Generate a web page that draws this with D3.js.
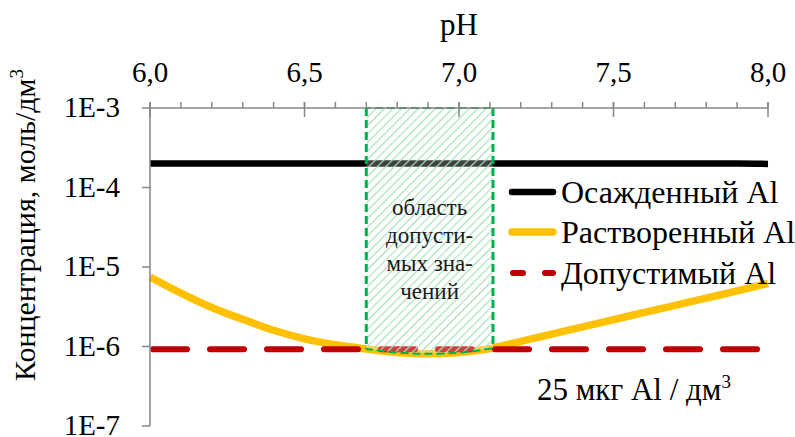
<!DOCTYPE html>
<html><head><meta charset="utf-8">
<script src="https://cdn.jsdelivr.net/npm/d3@7"></script>
<style>
html,body{margin:0;padding:0;background:#fff;}
svg{display:block;}
</style></head>
<body>
<svg id="chart" width="795" height="437"></svg>
<script>
// ---- data ----
const pH = [6.0,6.1,6.2,6.3,6.4,6.5,6.6,6.7,6.8,6.9,7.0,7.1,7.2,7.3,7.4,7.5,7.6,7.7,7.8,7.9,8.0];
const precipitated = [2.0e-4,2.0e-4,2.0e-4,2.0e-4,2.0e-4,2.0e-4,2.0e-4,2.0e-4,2.0e-4,2.0e-4,2.0e-4,2.0e-4,2.0e-4,2.0e-4,2.0e-4,2.0e-4,2.0e-4,2.0e-4,2.0e-4,2.0e-4,1.98e-4];
const dissolved = [7.5e-6,4.7e-6,3.1e-6,2.2e-6,1.6e-6,1.25e-6,1.05e-6,0.93e-6,0.84e-6,0.81e-6,0.84e-6,0.94e-6,1.16e-6,1.43e-6,1.77e-6,2.18e-6,2.68e-6,3.3e-6,4.07e-6,5.0e-6,6.2e-6];
const permissible = pH.map(() => 9.26e-7);
const zone = [6.7, 7.11];
const xTicks = [6.0, 6.5, 7.0, 7.5, 8.0];
const xMinorTicks = d3.range(60, 81).map(v => v / 10);
const yTicks = [1e-3, 1e-4, 1e-5, 1e-6, 1e-7];
const yTickLabels = ["1E-3", "1E-4", "1E-5", "1E-6", "1E-7"];
const seriesNames = ["Осажденный Al", "Растворенный Al", "Допустимый Al"];
const zoneText = ["область", "допусти-", "мых зна-", "чений"];

// ---- layout ----
const FONT = "Liberation Serif";
const svg = d3.select("#chart");
const x = d3.scaleLinear().domain([6, 8]).range([150, 768]);
const y = d3.scaleLog().domain([1e-7, 1e-3]).range([426, 108]);
const axisColor = "#868686";
const tickFs = 29, legFs = 32, titleFs = 30;
function txt(sel, fs) { return sel.append("text").attr("font-family", FONT).attr("font-size", fs).attr("fill", "#000"); }

// pattern
const defs = svg.append("defs");
const pat = defs.append("pattern").attr("id", "hatch").attr("patternUnits", "userSpaceOnUse")
  .attr("width", 6).attr("height", 6).attr("patternTransform", "rotate(45)");
pat.append("rect").attr("width", 6).attr("height", 6).attr("fill", "rgba(255,255,255,0.25)");
pat.append("line").attr("x1", 0).attr("y1", 0).attr("x2", 0).attr("y2", 6)
  .attr("stroke", "#a6e2b9").attr("stroke-width", 2.4);

const areaGen = d3.area().x((d, i) => x(pH[i])).y0(() => y(1e-3)).y1((d) => y(d)).curve(d3.curveMonotoneX);
defs.append("clipPath").attr("id", "zoneX").append("rect")
  .attr("x", x(zone[0])).attr("y", 0).attr("width", x(zone[1]) - x(zone[0])).attr("height", 437);
defs.append("clipPath").attr("id", "underTop").append("path").attr("d", areaGen(dissolved));

// lines
const lineGen = d3.line().x((d, i) => x(pH[i])).y(d => y(d)).curve(d3.curveMonotoneX);
svg.append("path").attr("d", lineGen(precipitated)).attr("fill", "none")
  .attr("stroke", "#000").attr("stroke-width", 6.5);
svg.append("path").attr("d", lineGen(dissolved)).attr("fill", "none")
  .attr("stroke", "#ffc000").attr("stroke-width", 7.5).attr("stroke-linecap", "butt");
svg.append("path").attr("d", lineGen(permissible)).attr("fill", "none")
  .attr("stroke", "#c00000").attr("stroke-width", 6).attr("stroke-dasharray", "34,23")
  .attr("stroke-linecap", "round").attr("transform", "translate(3,0)");

// zone
const zg = svg.append("g");
zg.append("path").attr("d", areaGen(dissolved)).attr("fill", "url(#hatch)").attr("clip-path", "url(#zoneX)");
const dash = "8,4";
zg.append("path").attr("d", areaGen(dissolved)).attr("fill", "none").attr("stroke", "#00b050")
  .attr("stroke-width", 2).attr("stroke-dasharray", dash).attr("clip-path", "url(#zoneX)");
const vg = zg.append("g").attr("clip-path", "url(#underTop)");
zone.forEach(z => {
  vg.append("line").attr("x1", x(z)).attr("x2", x(z)).attr("y1", y(1e-3)).attr("y2", y(1e-7))
    .attr("stroke", "#00b050").attr("stroke-width", 3).attr("stroke-dasharray", dash);
});
const zcx = (x(zone[0]) + x(zone[1])) / 2;
zoneText.forEach((t, i) => {
  txt(zg, 23).attr("x", zcx).attr("y", 215 + i * 28).attr("text-anchor", "middle")
    .attr("fill", "#1a1a1a").text(t);
});

// x axis (top)
const ax = svg.append("g");
ax.append("line").attr("x1", x(6)).attr("x2", x(8)).attr("y1", y(1e-3)).attr("y2", y(1e-3))
  .attr("stroke", axisColor).attr("stroke-width", 1.5);
xMinorTicks.forEach(v => {
  ax.append("line").attr("x1", x(v)).attr("x2", x(v)).attr("y1", y(1e-3) - 6).attr("y2", y(1e-3))
    .attr("stroke", axisColor).attr("stroke-width", 1.5);
});
xTicks.forEach(v => {
  ax.append("line").attr("x1", x(v)).attr("x2", x(v)).attr("y1", y(1e-3) - 6).attr("y2", y(1e-3) + 9)
    .attr("stroke", axisColor).attr("stroke-width", 1.5);
  txt(ax, tickFs).attr("x", x(v)).attr("y", 82).attr("text-anchor", "middle")
    .text(d3.format(".1f")(v).replace(".", ","));
});
txt(ax, 31).attr("x", 459).attr("y", 35).attr("text-anchor", "middle").text("pH");

// y axis
const ay = svg.append("g");
ay.append("line").attr("x1", x(6)).attr("x2", x(6)).attr("y1", y(1e-3)).attr("y2", y(1e-7))
  .attr("stroke", axisColor).attr("stroke-width", 1.5);
yTicks.forEach((v, i) => {
  ay.append("line").attr("x1", x(6) - 8).attr("x2", x(6)).attr("y1", y(v)).attr("y2", y(v))
    .attr("stroke", axisColor).attr("stroke-width", 1.5);
  txt(ay, tickFs).attr("x", 120).attr("y", y(v) + 9).attr("text-anchor", "end").text(yTickLabels[i]);
});
const yt = txt(ay, titleFs).attr("transform", "translate(35,225) rotate(-90)").attr("text-anchor", "middle");
yt.append("tspan").text("Концентрация, моль/дм");
yt.append("tspan").attr("dy", -12).attr("font-size", 19).text("3");

// legend
const lg = svg.append("g");
const lys = [192, 232, 273];
const lstyles = [
  {c: "#000", w: 6.5, da: null},
  {c: "#ffc000", w: 7.5, da: null},
  {c: "#c00000", w: 6, da: "10,22"}
];
seriesNames.forEach((n, i) => {
  const s = lstyles[i];
  const l = lg.append("line").attr("x1", s.da ? 513 : 512).attr("x2", 553).attr("y1", lys[i]).attr("y2", lys[i])
    .attr("stroke", s.c).attr("stroke-width", s.w).attr("stroke-linecap", "round");
  if (s.da) l.attr("stroke-dasharray", s.da);
  txt(lg, legFs).attr("x", 561).attr("y", lys[i] + 11).text(n);
});

// annotation
const an = txt(svg, 31).attr("x", 537).attr("y", 400);
an.append("tspan").text("25 мкг Al / дм");
an.append("tspan").attr("dy", -12).attr("font-size", 19).text("3");
</script>
</body></html>
